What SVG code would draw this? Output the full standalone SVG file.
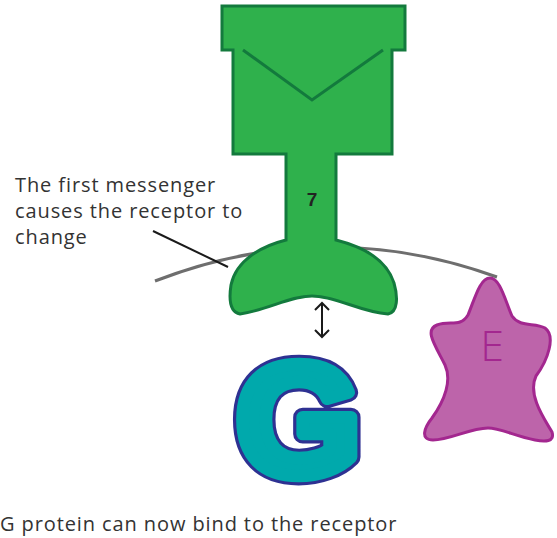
<svg xmlns="http://www.w3.org/2000/svg" width="557" height="538" viewBox="0 0 557 538">
  <style>
    .label { font-family: "Open Sans", "Liberation Sans", sans-serif; font-size: 20px; letter-spacing: 0.9px; fill: #333333; }
    .receptor { fill: #2FB14C; stroke: #137A3D; stroke-width: 3; stroke-linejoin: miter; }
    .membrane { fill: none; stroke: #6E6E6E; stroke-width: 3; }
    .pointer { fill: none; stroke: #1A1A1A; stroke-width: 2; }
    .gletter { font-family: "Liberation Sans", Arial, sans-serif; font-weight: bold; font-size: 150px; stroke-linejoin: round; }
  </style>
  <rect width="557" height="538" fill="#FFFFFF"/>

  <!-- cell membrane -->
  <g id="membrane">
    <path class="membrane" d="M155,281 Q325,215 497,277"/>
  </g>

  <!-- receptor (protein 7) -->
  <g id="receptor">
    <path class="receptor" d="M222,6 L405,6 L405,50 L392,50 L392,154 L336,154 L336,240
      C360,246 386,258 394,283 C398,297 398,312 388,314
      C360,312 336,296 312,296 C290,296 268,310 240,314
      C229,312 229,298 231,285 C236,260 262,246 286,240
      L286,154 L233,154 L233,50 L222,50 Z"/>
    <path class="receptor" fill="none" d="M243,50 L312,100 L383,50"/>
    <text x="312" y="206" text-anchor="middle" font-family="Liberation Sans, Arial, sans-serif" font-weight="bold" font-size="19" fill="#222222">7</text>
  </g>

  <!-- G protein: heavy letter built from an outline layer and a fill layer -->
  <g id="g-protein" transform="translate(298.5,483) scale(1.07,1.05) translate(-298.5,-483)">
    <text class="gletter" x="298.5" y="474" text-anchor="middle" fill="#2E3192" stroke="#2E3192" stroke-width="18">G</text>
    <text class="gletter" x="298.5" y="474" text-anchor="middle" fill="#00A9AC" stroke="#00A9AC" stroke-width="12">G</text>
  </g>

  <!-- effector E -->
  <g id="effector">
    <path fill="#BD64AA" stroke="#A3278F" stroke-width="3" d="M490,278
      C500,278 505,300 512,316 C520,328 535,322 545,328
      C556,336 548,360 536,376 C527,395 545,420 552,432
      C555,442 545,442 535,440 C515,436 500,428 488,428
      C470,428 450,440 433,440 C420,440 424,428 432,418
      C445,400 452,380 445,365 C435,345 424,330 437,325
      C450,320 460,328 468,315 C475,298 480,278 490,278 Z"/>
    <text x="492" y="361" text-anchor="middle" font-family="Open Sans, Liberation Sans, sans-serif" font-weight="300" font-size="43" fill="#A3278F">E</text>
  </g>

  <!-- connectors -->
  <g id="connectors">
    <line class="pointer" x1="153" y1="231" x2="228" y2="267"/>
    <path class="pointer" d="M322,303 L322,337 M315,310 L322,303 L329,310 M315,330 L322,337 L329,330"/>
  </g>

  <!-- labels -->
  <g id="labels">
    <text class="label" x="15" y="192">The first messenger</text>
    <text class="label" x="15" y="218">causes the receptor to</text>
    <text class="label" x="15" y="244">change</text>
    <text class="label" x="0" y="531">G protein can now bind to the receptor</text>
  </g>
</svg>
